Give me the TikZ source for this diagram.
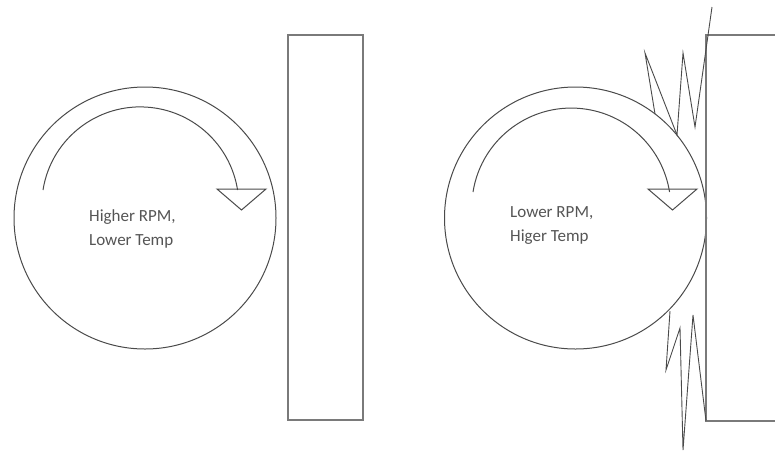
\documentclass[tikz,border=0pt]{standalone}
\usepackage{fontspec}
\setmainfont{Carlito}
\definecolor{linegray}{HTML}{4A4A4A}
\definecolor{boxgray}{HTML}{7A7A7A}
\definecolor{textgray}{HTML}{555555}
\tikzset{
  wheel/.style={circle, draw=linegray, line width=1pt, minimum size=262pt, inner sep=0pt},
  spinarc/.style={draw=linegray, line width=1pt},
  tiphead/.style={draw=linegray, line width=1pt, line join=miter},
  wall/.style={draw=boxgray, line width=1.4pt},
  spark/.style={draw=linegray, line width=0.9pt, line join=miter},
  lbl/.style={text=textgray, align=left, anchor=north west, inner sep=0pt,
              font=\fontsize{17}{24.5}\selectfont}
}
\begin{document}
\begin{tikzpicture}[x=1pt,y=-1pt]
\useasboundingbox (0,0) rectangle (775,453);
\clip (0,0) rectangle (775,453);
\fill[white] (0,0) rectangle (775,453);

% ---------- left: higher RPM ----------
\node[wheel] (c1) at (145,218) {};
\node[draw=boxgray, line width=1.4pt, minimum width=75pt, minimum height=385pt, inner sep=0pt] (r1) at (325.5,227.5) {};
\draw[spinarc] (43,190) arc[start angle=171, end angle=9, radius=98.5pt];
\draw[tiphead] (217,189) -- (266,189) -- (241.5,210) -- cycle;
\node[lbl] (t1) at (89,209) {Higher RPM,\\Lower Temp};

% ---------- right: lower RPM ----------
\node[wheel] (c2) at (575.5,218) {};
\draw[wall] (790,35) -- (706,35) -- (706,421) -- (790,421);
\coordinate (r2) at (706,228);
\draw[spinarc] (473,192) arc[start angle=171, end angle=9, radius=99.5pt];
\draw[tiphead] (648,189) -- (697,189) -- (672.5,210) -- cycle;
\node[lbl] (t2) at (510,206) {Lower RPM,\\Higer Temp};

% sparks (friction)
\draw[spark] (655,114) -- (645,53) -- (677,135) -- (683,53) -- (695,127) -- (712,7);
\draw[spark] (670,311) -- (666,370) -- (680,328) -- (683,450) -- (693,315) -- (706,421);
\end{tikzpicture}
\end{document}
